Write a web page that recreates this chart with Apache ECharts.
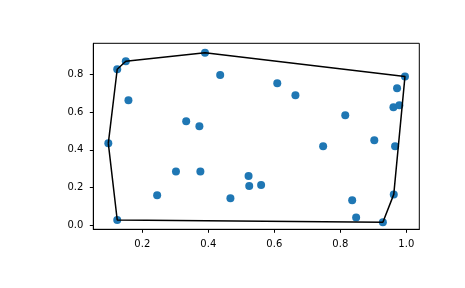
<!DOCTYPE html>
<html><head><meta charset="utf-8">
<script src="https://cdn.jsdelivr.net/npm/echarts@6/dist/echarts.min.js"></script>
<style>html,body{margin:0;padding:0;background:#fff}#c{width:465px;height:288px}</style>
</head><body><div id="c"></div>
<script>
const xs = [0.097,0.124,0.124,0.150,0.158,0.390,0.436,0.333,0.373,0.245,0.302,0.376,0.467,0.522,0.524,0.560,0.609,0.664,0.815,0.748,0.903,0.966,0.836,0.848,0.929,0.962,0.996,0.972,0.961,0.979];
const ys = [0.435,0.028,0.828,0.870,0.663,0.916,0.797,0.552,0.525,0.159,0.286,0.286,0.143,0.262,0.208,0.214,0.753,0.690,0.584,0.419,0.451,0.419,0.133,0.042,0.016,0.164,0.790,0.727,0.626,0.637];
const xTicks = [0.2,0.4,0.6,0.8,1.0];
const yTicks = [0.0,0.2,0.4,0.6,0.8];

const pts = xs.map((x,i)=>[x,ys[i]]);
function hull(p){
  const s = p.slice().sort((a,b)=>a[0]-b[0]||a[1]-b[1]);
  const cr=(o,a,b)=>(a[0]-o[0])*(b[1]-o[1])-(a[1]-o[1])*(b[0]-o[0]);
  const lo=[],up=[];
  for(const q of s){while(lo.length>=2&&cr(lo[lo.length-2],lo[lo.length-1],q)<=0)lo.pop();lo.push(q);}
  for(let i=s.length-1;i>=0;i--){const q=s[i];while(up.length>=2&&cr(up[up.length-2],up[up.length-1],q)<=0)up.pop();up.push(q);}
  up.pop();lo.pop();return lo.concat(up);
}
const h = hull(pts); h.push(h[0]);

const chart = echarts.init(document.getElementById('c'));
const font = {fontFamily:'DejaVu Sans', fontSize:10, color:'#000'};
chart.setOption({
  animation:false,
  grid:{left:93.3,top:43.3,right:45.7,bottom:58.7,show:true,borderColor:'#000',borderWidth:1,backgroundColor:'transparent'},
  xAxis:{type:'value',min:0.0515,max:1.0394,
    axisLine:{show:true,onZero:false,lineStyle:{color:'#000',width:1}},
    axisTick:{show:true,length:3.5,customValues:xTicks,lineStyle:{color:'#000'}},
    axisLabel:Object.assign({customValues:xTicks,margin:10,formatter:v=>v.toFixed(1)},font),
    splitLine:{show:false}},
  yAxis:{type:'value',min:-0.0212,max:0.9655,
    axisLine:{show:true,onZero:false,lineStyle:{color:'#000',width:1}},
    axisTick:{show:true,length:3.5,customValues:yTicks,lineStyle:{color:'#000'}},
    axisLabel:Object.assign({customValues:yTicks,margin:10,formatter:v=>v.toFixed(1)},font),
    splitLine:{show:false}},
  series:[
    {type:'scatter',data:pts,symbolSize:8,itemStyle:{color:'#1f77b4',opacity:1},z:2},
    {type:'line',data:h,symbol:'none',lineStyle:{color:'#000',width:1.5},z:3}
  ]
});
</script></body></html>
